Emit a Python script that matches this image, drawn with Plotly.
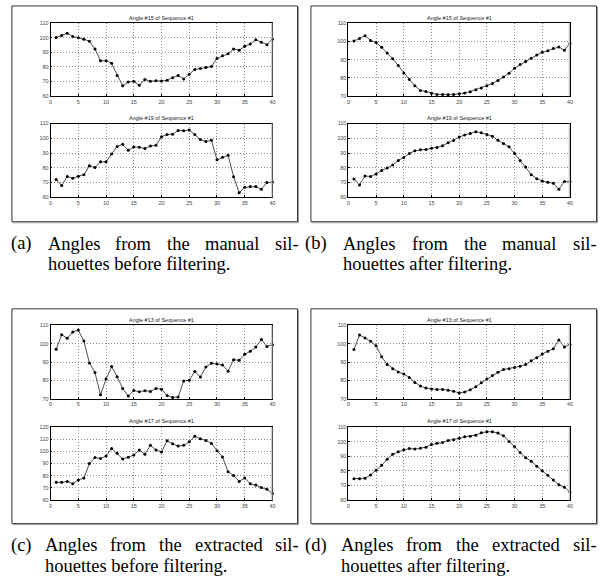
import plotly.graph_objects as go

W, H = 604, 588
frames = list(range(1, 41))

# ---- data ----
a_top = [100.1, 101.5, 103.0, 100.8, 99.9, 99.0, 97.5, 92.3, 84.2, 84.2, 82.4, 74.1, 67.0, 69.6, 70.1, 67.4,
         71.4, 70.1, 70.5, 70.3, 70.8, 72.6, 74.1, 71.7, 75.0, 78.2, 78.8, 79.5, 80.2, 85.8, 87.6, 88.9, 92.3,
         91.4, 94.1, 95.7, 98.6, 96.8, 95.2, 99.0]
a_bot = [72.1, 68.0, 74.1, 72.8, 74.3, 75.2, 81.3, 80.2, 84.0, 84.0, 89.4, 94.5, 95.9, 91.8, 94.1, 93.9,
         93.0, 94.8, 95.2, 101.0, 102.6, 102.8, 105.3, 105.1, 105.7, 102.6, 99.2, 97.9, 98.6, 85.4, 87.1,
         88.5, 73.9, 63.0, 66.7, 67.2, 67.2, 65.4, 69.9, 70.3]
b_top = [100.2, 101.6, 103.1, 100.5, 99.3, 96.7, 93.6, 90.4, 86.7, 82.7, 79.1, 75.6, 73.1, 72.5, 71.5, 70.9,
         70.9, 70.7, 70.9, 71.3, 71.6, 72.4, 73.5, 74.4, 75.6, 76.9, 78.5, 80.4, 82.5, 85.3, 87.3, 88.9, 90.7,
         92.5, 94.0, 94.9, 96.0, 96.9, 95.1, 98.9]
b_bot = [72.4, 68.3, 74.4, 74.0, 75.8, 78.2, 79.8, 81.8, 85.0, 87.0, 89.7, 91.5, 92.2, 92.4, 93.3, 93.8,
         94.9, 96.9, 98.5, 100.8, 102.3, 103.2, 104.4, 103.7, 102.6, 101.4, 98.7, 96.5, 94.2, 89.7, 85.0,
         80.5, 75.3, 72.6, 71.0, 70.1, 69.5, 65.4, 70.6, 70.6]
c_top = [97.0, 105.0, 103.0, 106.4, 107.5, 101.5, 89.6, 84.4, 72.3, 80.8, 87.6, 82.1, 75.7, 71.6, 74.6, 73.9,
         74.5, 74.1, 75.7, 75.3, 71.9, 70.8, 71.0, 79.8, 80.2, 84.9, 82.0, 87.4, 89.4, 89.0, 88.5, 85.1, 91.4,
         91.0, 94.3, 95.9, 98.3, 102.3, 98.6, 99.5]
c_bot = [74.6, 74.6, 75.4, 73.5, 76.5, 78.1, 90.0, 94.9, 94.1, 96.2, 102.4, 98.4, 93.8, 95.1, 97.0, 101.1,
         97.6, 104.9, 101.1, 99.5, 108.6, 106.2, 104.3, 104.9, 107.8, 112.4, 110.3, 108.9, 106.5, 100.5, 95.4,
         83.2, 80.3, 75.4, 78.1, 73.5, 72.4, 70.3, 68.9, 65.4]
d_top = [96.9, 104.8, 103.2, 101.4, 98.9, 93.0, 88.8, 86.5, 84.7, 83.6, 81.7, 79.0, 77.0, 75.9, 75.4, 75.2,
         75.2, 74.7, 74.2, 73.2, 73.8, 75.0, 76.6, 78.8, 80.8, 82.7, 84.5, 86.0, 86.5, 87.1, 87.8, 88.8, 90.8,
         92.4, 94.4, 96.0, 97.3, 102.1, 98.3, 99.8]
d_bot = [74.7, 74.7, 75.0, 77.2, 80.5, 83.9, 87.9, 91.3, 93.0, 94.4, 95.3, 94.9, 95.5, 96.2, 98.0, 98.9,
         99.3, 100.8, 101.3, 102.2, 103.3, 103.6, 104.4, 106.0, 106.7, 106.7, 105.8, 104.0, 100.0, 96.6, 92.6,
         89.0, 86.6, 83.2, 80.1, 77.0, 73.8, 70.5, 68.9, 65.6]

titles = ["Angle #15 of Sequence #1", "Angle #19 of Sequence #1",
          "Angle #15 of Sequence #1", "Angle #19 of Sequence #1",
          "Angle #13 of Sequence #1", "Angle #17 of Sequence #1",
          "Angle #13 of Sequence #1", "Angle #17 of Sequence #1"]
series = [a_top, a_bot, b_top, b_bot, c_top, c_bot, d_top, d_bot]
y_ranges = [(60, 110), (60, 110), (70, 110), (60, 110),
            (70, 110), (60, 120), (70, 110), (60, 110)]
x_ticks = [0, 5, 10, 15, 20, 25, 30, 35, 40]

captions = [
    ("(a)", "Angles from the manual sil-", "houettes before filtering."),
    ("(b)", "Angles from the manual sil-", "houettes after filtering."),
    ("(c)", "Angles from the extracted sil-", "houettes before filtering."),
    ("(d)", "Angles from the extracted sil-", "houettes after filtering."),
]

# ---- layout geometry (pixels) ----
col_x = [(49.0, 272.7), (349.3, 572.7)]
row_y = [(20.3, 94.0), (121.8, 196.2), (325.8, 400.0), (428.3, 502.3)]
placement = [(0, 0), (0, 1), (1, 0), (1, 1), (0, 2), (0, 3), (1, 2), (1, 3)]
panel_frames = [(10, 3, 298, 221), (311.5, 3, 599.5, 221), (10, 309, 298, 526), (311.5, 309, 599.5, 526)]


def px(x):
    return x / W


def py(y):
    return 1 - y / H


fig = go.Figure()
layout = dict(width=W, height=H, margin=dict(l=0, r=0, t=0, b=0),
              paper_bgcolor="white", plot_bgcolor="white", showlegend=False)
shapes, annotations = [], []

small_font = dict(family="Liberation Sans, Arial, sans-serif", size=5.5, color="#444")

for i, (vals, title, yr, (c, r)) in enumerate(zip(series, titles, y_ranges, placement)):
    n = i + 1
    xa = "xaxis" if n == 1 else f"xaxis{n}"
    ya = "yaxis" if n == 1 else f"yaxis{n}"
    xr = "x" if n == 1 else f"x{n}"
    yr_ = "y" if n == 1 else f"y{n}"
    fig.add_trace(go.Scatter(x=frames, y=vals, xaxis=xr, yaxis=yr_, mode="lines+markers",
                             line=dict(color="#222", width=0.8),
                             marker=dict(color="#000", size=3.0), cliponaxis=False))
    x0, x1 = col_x[c]
    y0, y1 = row_y[r]
    yticks = list(range(yr[0], yr[1] + 1, 10))
    common = dict(showline=True, linecolor="#000", linewidth=0.8, mirror=True,
                  showgrid=True, gridcolor="#8c8c8c", griddash="1px,2px", gridwidth=0.7,
                  zeroline=False, ticks="inside", ticklen=2, tickcolor="#000", tickwidth=0.6,
                  tickfont=small_font)
    layout[xa] = dict(domain=[px(x0), px(x1)], anchor=yr_, range=[0, 40],
                      tickvals=x_ticks, ticktext=[str(t) for t in x_ticks], **common)
    layout[ya] = dict(domain=[py(y1), py(y0)], anchor=xr, range=list(yr),
                      tickvals=yticks, ticktext=[str(t) for t in yticks], **common)
    shapes.append(dict(type="line", xref=xr, yref=f"{yr_} domain", x0=40, x1=40, y0=0, y1=1,
                       line=dict(color="#c4c4c4", width=2.5), layer="above"))
    annotations.append(dict(text=title, xref="paper", yref="paper",
                            x=px((x0 + x1) / 2), y=py(y0 - 5.5), xanchor="center", yanchor="middle",
                            showarrow=False, font=dict(small_font, color="#222")))

# panel frames
for (fx0, fy0, fx1, fy1) in panel_frames:
    shapes.append(dict(type="rect", xref="paper", yref="paper", x0=px(fx0), x1=px(fx1),
                       y0=py(fy1), y1=py(fy0), line=dict(color="#333", width=1)))
    shapes.append(dict(type="line", xref="paper", yref="paper", x0=px(fx1 + 1), x1=px(fx1 + 1),
                       y0=py(fy1 + 1), y1=py(fy0 + 1), line=dict(color="#999", width=1)))
    shapes.append(dict(type="line", xref="paper", yref="paper", x0=px(fx0 + 1), x1=px(fx1 + 1),
                       y0=py(fy1 + 1), y1=py(fy1 + 1), line=dict(color="#999", width=1)))

# captions: first line justified across the panel width (Times metrics)
TIMES = {'(': 333, ')': 333, 'a': 444, 'b': 500, 'c': 444, 'd': 500, 'e': 444, 'f': 333, 'g': 500,
         'h': 500, 'i': 278, 'l': 278, 'm': 778, 'n': 500, 'o': 500, 'r': 333, 's': 389, 't': 278,
         'u': 500, 'x': 500, 'A': 722, '-': 333, '.': 250, ' ': 250}
CAP_SIZE = 18.5


def text_w(s):
    return sum(TIMES.get(ch, 500) for ch in s) / 1000 * CAP_SIZE


cap_pos = [(8.5, 298, 243, 264), (305, 598, 243, 264), (8.5, 298, 548, 569), (305, 598, 548, 569)]
cap_font = dict(family="Liberation Serif, Times New Roman, serif", size=CAP_SIZE, color="#000")
for (lab, l1, l2), (cx0, cx1, cy1, cy2) in zip(captions, cap_pos):
    words = [lab] + l1.split()
    widths = [text_w(w) for w in words]
    gap = (cx1 - cx0 - sum(widths)) / (len(words) - 1)
    xpos = cx0
    starts = []
    for w, wd in zip(words, widths):
        starts.append(xpos)
        annotations.append(dict(text=w, xref="paper", yref="paper", x=px(xpos), y=py(cy1),
                                xanchor="left", yanchor="middle", showarrow=False, font=cap_font,
                                borderpad=0))
        xpos += wd + gap
    annotations.append(dict(text=l2, xref="paper", yref="paper", x=px(starts[1]), y=py(cy2),
                            xanchor="left", yanchor="middle", showarrow=False, font=cap_font,
                            borderpad=0))

layout["shapes"] = shapes
layout["annotations"] = annotations
fig.update_layout(**layout)
fig.write_html("out.html", config={"displayModeBar": False},
               post_script="document.body.style.margin='0';document.body.style.overflow='hidden';")
